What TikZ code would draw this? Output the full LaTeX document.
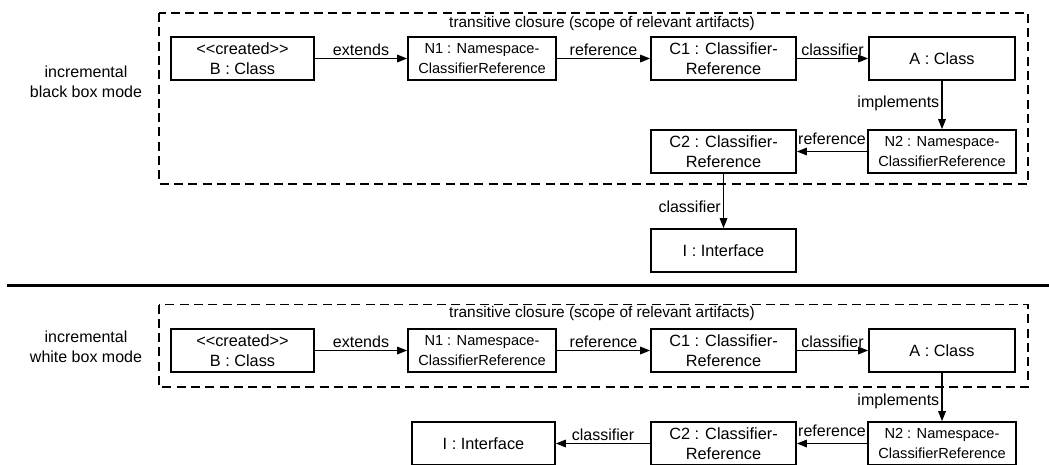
\documentclass[tikz,border=0pt]{standalone}
\usepackage{fontspec}
\setmainfont{Liberation Sans}[Ligatures=TeXOff]
\usetikzlibrary{arrows.meta}
\begin{document}
\begin{tikzpicture}[x=1pt,y=-1pt,
  obj/.style={draw, line width=1.6pt, minimum height=43pt, inner sep=0pt,
    align=center, font=\fontsize{16.3}{20}\selectfont},
  objsmall/.style={obj, font=\fontsize{14.6}{20}\selectfont},
  conn/.style={line width=1.5pt, -{Triangle[length=10pt,width=7.5pt]}},
  lbl/.style={font=\fontsize{16}{20}\selectfont, inner sep=2pt},
  title/.style={font=\fontsize{15.4}{20}\selectfont, inner sep=2pt},
  scopebox/.style={draw, line width=1.5pt, dash pattern=on 9pt off 5.3pt},
  modelabel/.style={align=center, font=\fontsize{16}{20}\selectfont}]
\useasboundingbox (0,0) rectangle (1049,464);

% ---------- black box mode ----------
\draw[scopebox] (159,13) rectangle (1028,184);
\node[title] (t1) at (602,24) {transitive closure (scope of relevant artifacts)};
\node[modelabel] (m1) at (86,82) {incremental\\black box mode};

\node[obj, minimum width=143pt] (b1) at (242.5,58.5) {<<created>>\\B : Class};
\node[objsmall, minimum width=148pt] (n11) at (482,58.5) {N1 : Namespace-\\ClassifierReference};
\node[obj, minimum width=145pt] (c11) at (723.5,58.5) {C1 : Classifier-\\Reference};
\node[obj, minimum width=146pt] (a1) at (942,58.5) {A : Class};
\node[objsmall, minimum width=148pt] (n21) at (942,151.5) {N2 : Namespace-\\ClassifierReference};
\node[obj, minimum width=145pt] (c21) at (723.5,151.5) {C2 : Classifier-\\Reference};
\node[obj, minimum width=145pt] (i1) at (723.5,250.5) {I : Interface};

\draw[conn] (b1) -- node[lbl, above] {extends} (n11);
\draw[conn] (n11) -- node[lbl, above] {reference} (c11);
\draw[conn] (c11) -- node[lbl, above] {classifier} (a1);
\draw[conn] (a1) -- node[lbl, left, pos=0.46] {implements} (n21);
\draw[conn] (n21) -- node[lbl, above, yshift=4pt] {reference} (c21);
\draw[conn] (c21) -- node[lbl, left, pos=0.6] {classifier} (i1);

% ---------- separator ----------
\coordinate (s0) at (7,285.5);
\coordinate (s1) at (1049,285.5);
\draw[line width=2.2pt] (s0) -- (s1);

% ---------- white box mode ----------
\draw[scopebox] (159,304.5) rectangle (1028,387);
\node[title] (t2) at (602,314) {transitive closure (scope of relevant artifacts)};
\node[modelabel] (m2) at (86,347) {incremental\\white box mode};

\node[obj, minimum width=143pt] (b2) at (242.5,350.5) {<<created>>\\B : Class};
\node[objsmall, minimum width=148pt] (n12) at (482,350.5) {N1 : Namespace-\\ClassifierReference};
\node[obj, minimum width=145pt] (c12) at (723.5,350.5) {C1 : Classifier-\\Reference};
\node[obj, minimum width=146pt] (a2) at (942,350.5) {A : Class};
\node[objsmall, minimum width=148pt] (n22) at (942,443.5) {N2 : Namespace-\\ClassifierReference};
\node[obj, minimum width=145pt] (c22) at (723.5,443.5) {C2 : Classifier-\\Reference};
\node[obj, minimum width=143pt] (i2) at (483.5,443.5) {I : Interface};

\draw[conn] (b2) -- node[lbl, above] {extends} (n12);
\draw[conn] (n12) -- node[lbl, above] {reference} (c12);
\draw[conn] (c12) -- node[lbl, above] {classifier} (a2);
\draw[conn] (a2) -- node[lbl, left, pos=0.6] {implements} (n22);
\draw[conn] (n22) -- node[lbl, above, yshift=4pt] {reference} (c22);
\draw[conn] (c22) -- node[lbl, above] {classifier} (i2);
\end{tikzpicture}
\end{document}
